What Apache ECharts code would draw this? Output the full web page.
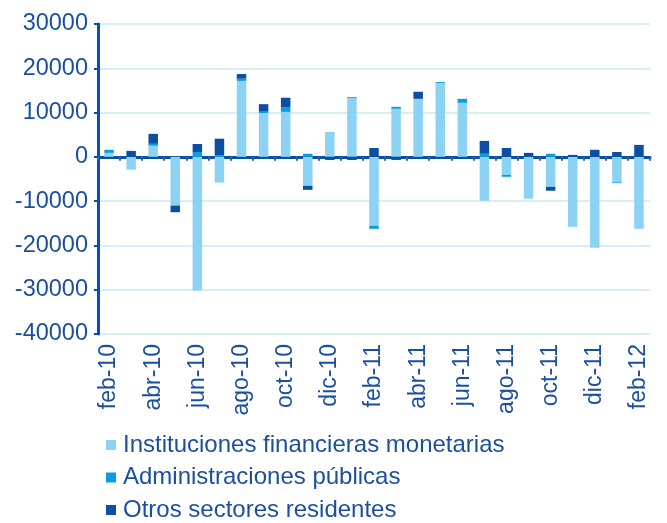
<!DOCTYPE html>
<html><head><meta charset="utf-8">
<script src="https://cdn.jsdelivr.net/npm/echarts@6/dist/echarts.min.js"></script>
<style>html,body{margin:0;padding:0;background:#fff}#c{width:667px;height:523px}</style>
</head><body><div id="c"></div>
<script>
const categories = ["feb-10","mar-10","abr-10","may-10","jun-10","jul-10","ago-10","sep-10","oct-10","nov-10","dic-10","ene-11","feb-11","mar-11","abr-11","may-11","jun-11","jul-11","ago-11","sep-11","oct-11","nov-11","dic-11","ene-12","feb-12"];
const ifm  = [900,-2900,2500,-11000,-30150,-5800,17150,9900,10150,-6550,5650,13300,-15550,10850,13100,16700,12200,-9900,-4050,-9450,-6750,-15800,-20500,-5650,-16250];
const aapp = [700,0,450,0,1100,300,500,300,1000,700,0,200,-700,450,0,200,900,700,-450,0,700,0,0,-200,0];
const otros = [0,1350,2250,-1500,1800,3800,1050,1700,2200,-900,-700,-700,2000,-700,1600,0,0,2900,2000,900,-900,450,1600,1100,2700];
const seriesNames = ["Instituciones financieras monetarias","Administraciones públicas","Otros sectores residentes"];
const colors = ["#8bd2f3","#0a9ee0","#0b4fa3"];
const txt = "#1b4f9e";
const font = "Liberation Sans, Arial, sans-serif";
const chart = echarts.init(document.getElementById('c'));
chart.setOption({
  animation:false,
  grid:{left:98,right:17,top:24,bottom:189,containLabel:false},
  legend:{orient:'vertical',left:106,top:433,height:120,padding:0,itemWidth:10,itemHeight:10,itemGap:8.5,icon:'rect',
    textStyle:{color:txt,fontSize:24,fontFamily:font,padding:[0,0,0,2]},data:seriesNames},
  xAxis:{type:'category',data:categories,
    axisLine:{onZero:true,lineStyle:{color:'#0b4fa3',width:3}},
    axisTick:{show:true,interval:0,length:4,lineStyle:{color:'#2f62ad',width:2}},
    axisLabel:{interval:1,rotate:90,color:txt,fontSize:23,fontFamily:font,margin:10},
    splitLine:{show:false}},
  yAxis:{type:'value',min:-40000,max:30000,interval:10000,
    axisLine:{show:true,lineStyle:{color:'#0b4fa3',width:3}},
    axisTick:{show:true,length:4,lineStyle:{color:'#0b4fa3',width:2}},
    axisLabel:{color:txt,fontSize:23.5,fontFamily:font,margin:10,formatter:function(v){return String(v);}},
    splitLine:{lineStyle:{color:'#c8e8f6',width:1.5}}},
  series:[
    {name:seriesNames[0],type:'bar',stack:'a',data:ifm,barWidth:9.5,itemStyle:{color:colors[0]}},
    {name:seriesNames[1],type:'bar',stack:'a',data:aapp,barWidth:9.5,itemStyle:{color:colors[1]}},
    {name:seriesNames[2],type:'bar',stack:'a',data:otros,barWidth:9.5,itemStyle:{color:colors[2]}}
  ]
});
</script></body></html>
